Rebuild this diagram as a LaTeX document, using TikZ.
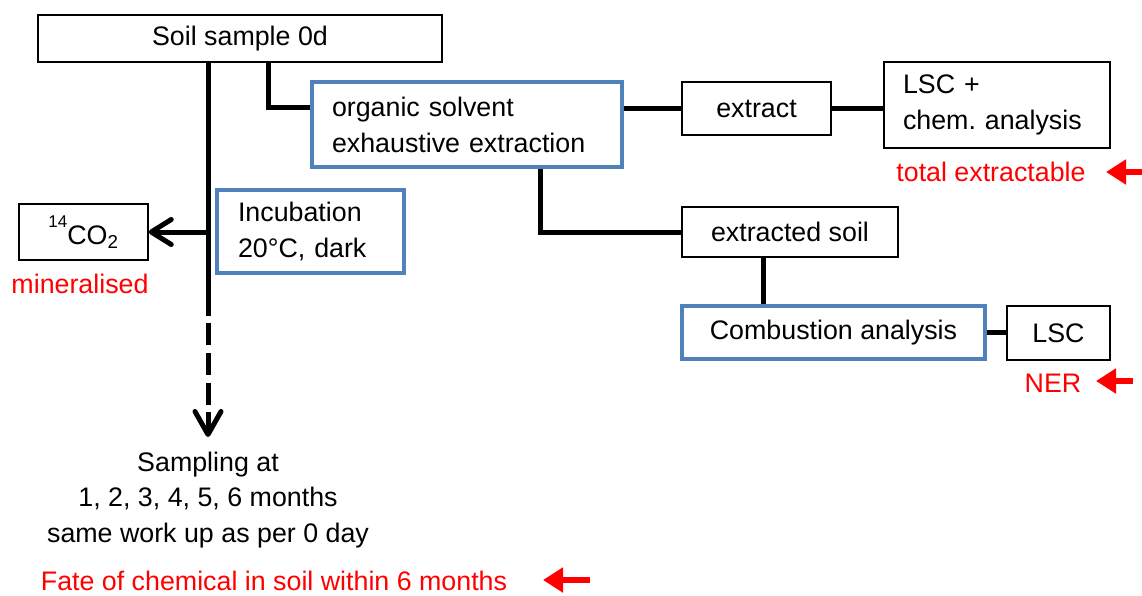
\documentclass[tikz,border=0pt]{standalone}
\usepackage{fontspec}
\setmainfont{Liberation Sans}
\usetikzlibrary{arrows.meta}
\definecolor{boxblue}{HTML}{4F81BD}
\frenchspacing
\begin{document}
\begin{tikzpicture}[x=1pt,y=-1pt,
  every node/.style={font=\fontsize{26.8}{36}\selectfont},
  bbox/.style={draw=black, line width=1.5pt, inner sep=0pt, fill=white},
  blbox/.style={draw=boxblue, line width=3.5pt, inner sep=0pt, fill=white},
  conn/.style={line width=5pt},
  chev/.style={-{Straight Barb[length=23pt,width=26pt,round]}},
  redtxt/.style={text=red, inner sep=0pt},
  redarrow/.style={draw=red, line width=6pt, -{Triangle[length=20pt,width=24pt]}}]
\useasboundingbox (0,0) rectangle (1142,595);

% boxes
\node[bbox, minimum width=404pt, minimum height=47pt] (soil) at (240,38.5) {Soil sample 0d};
\node[blbox, minimum width=310pt, minimum height=85pt, inner xsep=20pt, text width=270pt, align=left] (org) at (467,124.5) {organic solvent\\exhaustive extraction};
\node[bbox, minimum width=149pt, minimum height=53pt] (ext) at (756.5,108.5) {extract};
\node[bbox, minimum width=226pt, minimum height=86pt, inner xsep=19pt, text width=188pt, align=left] (lscchem) at (997,105) {LSC +\\chem. analysis};
\node[bbox, minimum width=216pt, minimum height=50pt] (exs) at (790,232) {extracted soil};
\node[blbox, minimum width=303pt, minimum height=53pt] (comb) at (833.5,332.5) {Combustion analysis};
\node[bbox, minimum width=103pt, minimum height=54pt] (lsc) at (1058.5,333) {LSC};
\node[blbox, minimum width=187pt, minimum height=83pt, inner xsep=21pt, text width=145pt, align=left] (inc) at (310.5,231.5) {Incubation\\20°C, dark};
\node[bbox, minimum width=129pt, minimum height=56pt] (co2) at (83.5,232) {\raisebox{1.2ex}{\fontsize{17}{17}\selectfont 14}CO\textsubscript{2}};

% texts
\node[redtxt] (totext) at (991,172) {total extractable};
\node[redtxt] (ner) at (1053,383) {NER};
\node[redtxt] (mineral) at (80,284) {mineralised};
\node[redtxt] (fate) at (274,581) {Fate of chemical in soil within 6 months};
\node[inner sep=0pt, align=center, font=\fontsize{26.8}{35.5}\selectfont] (samp) at (208,500) {Sampling at\\1, 2, 3, 4, 5, 6 months\\same work up as per 0 day};

% helper coordinates
\coordinate (mainx) at (208,316);
\coordinate (dashend) at (208,405);
\coordinate (chevstart) at (208,412);
\coordinate (samptip) at (208,437);
\coordinate (brx) at (268,107);
\coordinate (brx2) at (540,0);
\coordinate (cx) at (763,0);

% connectors
\draw[conn] (soil.south -| mainx) -- (mainx);
\draw[conn, dash pattern=on 22pt off 8pt, dash phase=23pt] (mainx) -- (dashend);
\draw[conn, chev] (chevstart) -- (samptip);
\draw[conn, -{Straight Barb[length=20pt,width=25pt,round]}] (mainx |- co2.east) -- (co2.east);
\draw[conn] (soil.south -| brx) |- (org.west |- brx);
\draw[conn] (org.east |- ext.west) -- (ext.west);
\draw[conn] (ext.east) -- (ext.east -| lscchem.west);
\draw[conn] (org.south -| brx2) |- (exs.west);
\draw[conn] (exs.south -| cx) -- (comb.north -| cx);
\draw[conn] (comb.east) -- (comb.east -| lsc.west);

% red arrows
\coordinate (ra1s) at (1142,172);
\coordinate (ra1e) at (1106,172);
\coordinate (ra2s) at (1133,381);
\coordinate (ra2e) at (1096,381);
\coordinate (ra3s) at (590,580);
\coordinate (ra3e) at (543,580);
\draw[redarrow] (ra1s) -- (ra1e);
\draw[redarrow] (ra2s) -- (ra2e);
\draw[redarrow] (ra3s) -- (ra3e);
\end{tikzpicture}
\end{document}
